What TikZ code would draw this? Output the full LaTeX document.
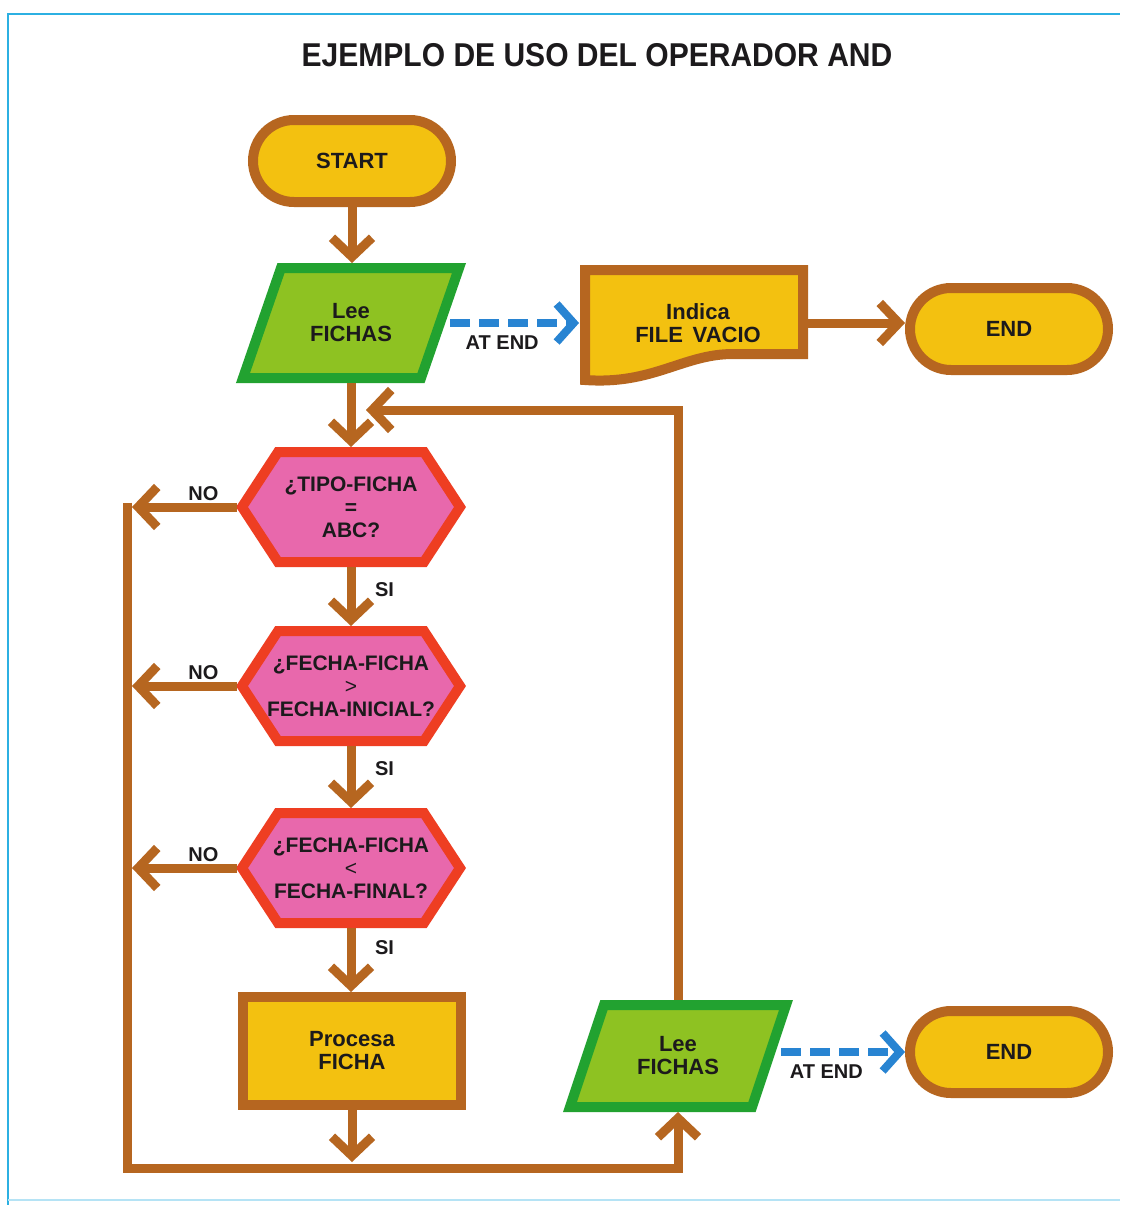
\documentclass[tikz,border=0pt]{standalone}
\usepackage{fontspec}
\setmainfont{Liberation Sans}
\newfontfamily\titlefont{Liberation Sans}[FakeStretch=0.91]
\usetikzlibrary{arrows.meta,calc,backgrounds}

\definecolor{fillyellow}{RGB}{243,193,16}
\definecolor{rimbrown}{RGB}{182,102,32}
\definecolor{rimgreen}{RGB}{34,162,48}
\definecolor{fillgreen}{RGB}{142,194,34}
\definecolor{fillpink}{RGB}{232,104,172}
\definecolor{rimred}{RGB}{238,62,34}
\definecolor{flowblue}{RGB}{40,132,210}
\definecolor{framecyan}{RGB}{44,176,226}
\definecolor{inkdark}{RGB}{28,26,28}

% outlines drawn around plain (invisible) nodes
\newcommand\hexoutline[1]{%
  \draw[hexrim] ($(#1)+(-109,0)$) -- ($(#1)+(-73,-55)$) -- ($(#1)+(73,-55)$)
    -- ($(#1)+(109,0)$) -- ($(#1)+(73,55)$) -- ($(#1)+(-73,55)$) -- cycle;}
% #1 node, #2 half width, #3 half height, #4 slant offset
\newcommand\paraoutline[4]{%
  \draw[pararim] ($(#1)+(-#2+#4,-#3)$) -- ($(#1)+(#2+#4,-#3)$)
    -- ($(#1)+(#2-#4,#3)$) -- ($(#1)+(-#2-#4,#3)$) -- cycle;}

\begin{document}
\begin{tikzpicture}[x=1pt,y=-1pt,
  every node/.style={inner sep=0pt, outer sep=0pt},
  txt/.style={font=\bfseries\fontsize{22}{23}\selectfont, align=center, text=inkdark},
  term/.style={txt, draw=rimbrown, fill=fillyellow, line width=10pt,
    rounded corners=41pt, minimum width=198pt, minimum height=82pt, outer sep=5pt},
  procbox/.style={txt, draw=rimbrown, fill=fillyellow, line width=10pt,
    minimum width=218pt, minimum height=108pt, outer sep=5pt},
  hexnode/.style={txt, font=\bfseries\fontsize{21}{23}\selectfont,
    minimum width=228pt, minimum height=120pt},
  hexrim/.style={draw=rimred, fill=fillpink, line width=10pt, line join=miter},
  pararim/.style={draw=rimgreen, fill=fillgreen, line width=10pt, line join=miter},
  docrim/.style={draw=rimbrown, fill=fillyellow, line width=10pt, line join=miter},
  lbl/.style={font=\bfseries\fontsize{20}{22}\selectfont, text=inkdark},
  tipbrown/.style={-{Straight Barb[length=19pt,width=40pt,line cap=butt,line join=miter]}},
  flow/.style={draw=rimbrown, line width=9pt, line join=miter, tipbrown},
  rail/.style={draw=rimbrown, line width=9pt, line join=miter},
  dashflow/.style={draw=flowblue, line width=8pt, dash pattern=on 20pt off 9pt,
    -{Straight Barb[length=17pt,width=38pt,line cap=butt,line join=miter]}}
]
\useasboundingbox (0,0) rectangle (1120,1205);

% title
\node[font=\titlefont\bfseries\fontsize{33}{36}\selectfont, text=inkdark] (title) at (597,55)
  {EJEMPLO DE USO DEL OPERADOR AND};

% main column
\node[term] (start) at (352,161) {START};
\node[txt, minimum width=188pt, minimum height=120pt] (lee1) at (351,323) {Lee\\FICHAS};
\node[txt, minimum width=220pt, minimum height=120pt] (doc) at (698,323) {Indica\\FILE\, VACIO};
\node[term] (end1) at (1009,329) {END};
\node[hexnode] (h1) at (351,507) {¿TIPO-FICHA\\=\\ABC?};
\node[hexnode] (h2) at (351,686) {¿FECHA-FICHA\\{\mdseries >}\\FECHA-INICIAL?};
\node[hexnode] (h3) at (351,868) {¿FECHA-FICHA\\{\mdseries <}\\FECHA-FINAL?};
\node[procbox] (proc) at (352,1051) {Procesa\\FICHA};
\node[txt, minimum width=192pt, minimum height=112pt] (lee2) at (678,1056) {Lee\\FICHAS};
\node[term] (end2) at (1009,1052) {END};

% free ends of connectors
\coordinate (railTop) at (127,502.5);
\coordinate (railCorner) at (127,1168);
\coordinate (railEdge) at (132,0);
\coordinate (procOut) at (352,1162);
\coordinate (back) at (366,410);

% shapes, frame and paper behind everything
\begin{scope}[on background layer]
  \fill[white] (0,0) rectangle (1120,1205);
  \draw[framecyan, line width=2.5pt] (8,1205) -- (8,14) -- (1120,14);
  \draw[framecyan!35, line width=2pt] (8,1200) -- (1120,1200);
  \paraoutline{lee1}{89}{55}{19}
  \paraoutline{lee2}{91}{51}{17}
  \hexoutline{h1}
  \hexoutline{h2}
  \hexoutline{h3}
  \draw[docrim] ($(doc)+(-113,-53)$) -- ($(doc)+(105,-53)$) -- ($(doc)+(105,31)$)
    -- ($(doc)+(35,31)$) .. controls ($(doc)+(-15,31)$) and ($(doc)+(-45,62)$) .. ($(doc)+(-113,57)$)
    -- cycle;
\end{scope}

% connectors
\draw[flow] (start.south) -- (start.south |- lee1.north);
\draw[dashflow, shorten <=5pt, shorten >=9pt] (lee1.east) --
  node[lbl, below=13pt, pos=0.4] {AT END} (lee1.east -| doc.west);
\draw[flow] (doc.east) -- (end1.west |- doc.east);
\draw[flow] (lee1.south) -- (lee1.south |- h1.north);
\draw[flow] (h1.south) -- node[lbl, right=24pt, pos=0.38] {SI} (h2.north);
\draw[flow] (h2.south) -- node[lbl, right=24pt, pos=0.36] {SI} (h3.north);
\draw[flow] (h3.south) -- node[lbl, right=24pt, pos=0.3] {SI} (h3.south |- proc.north);
\draw[flow] (h1.west) -- node[lbl, above=6pt, pos=0.32] {NO} (h1.west -| railEdge);
\draw[flow] (h2.west) -- node[lbl, above=6pt, pos=0.32] {NO} (h2.west -| railEdge);
\draw[flow] (h3.west) -- node[lbl, above=6pt, pos=0.32] {NO} (h3.west -| railEdge);
\draw[flow] (proc.south) -- (procOut);
\draw[rail, tipbrown] (railTop) -- (railCorner) -- (railCorner -| lee2.south) -- (lee2.south);
\draw[flow] (lee2.north) -- (lee2.north |- back) -- (back);
\draw[dashflow, shorten <=7pt] (lee2.east |- end2.west) --
  node[lbl, below=13pt, pos=0.4] {AT END} (end2.west);
\end{tikzpicture}
\end{document}
